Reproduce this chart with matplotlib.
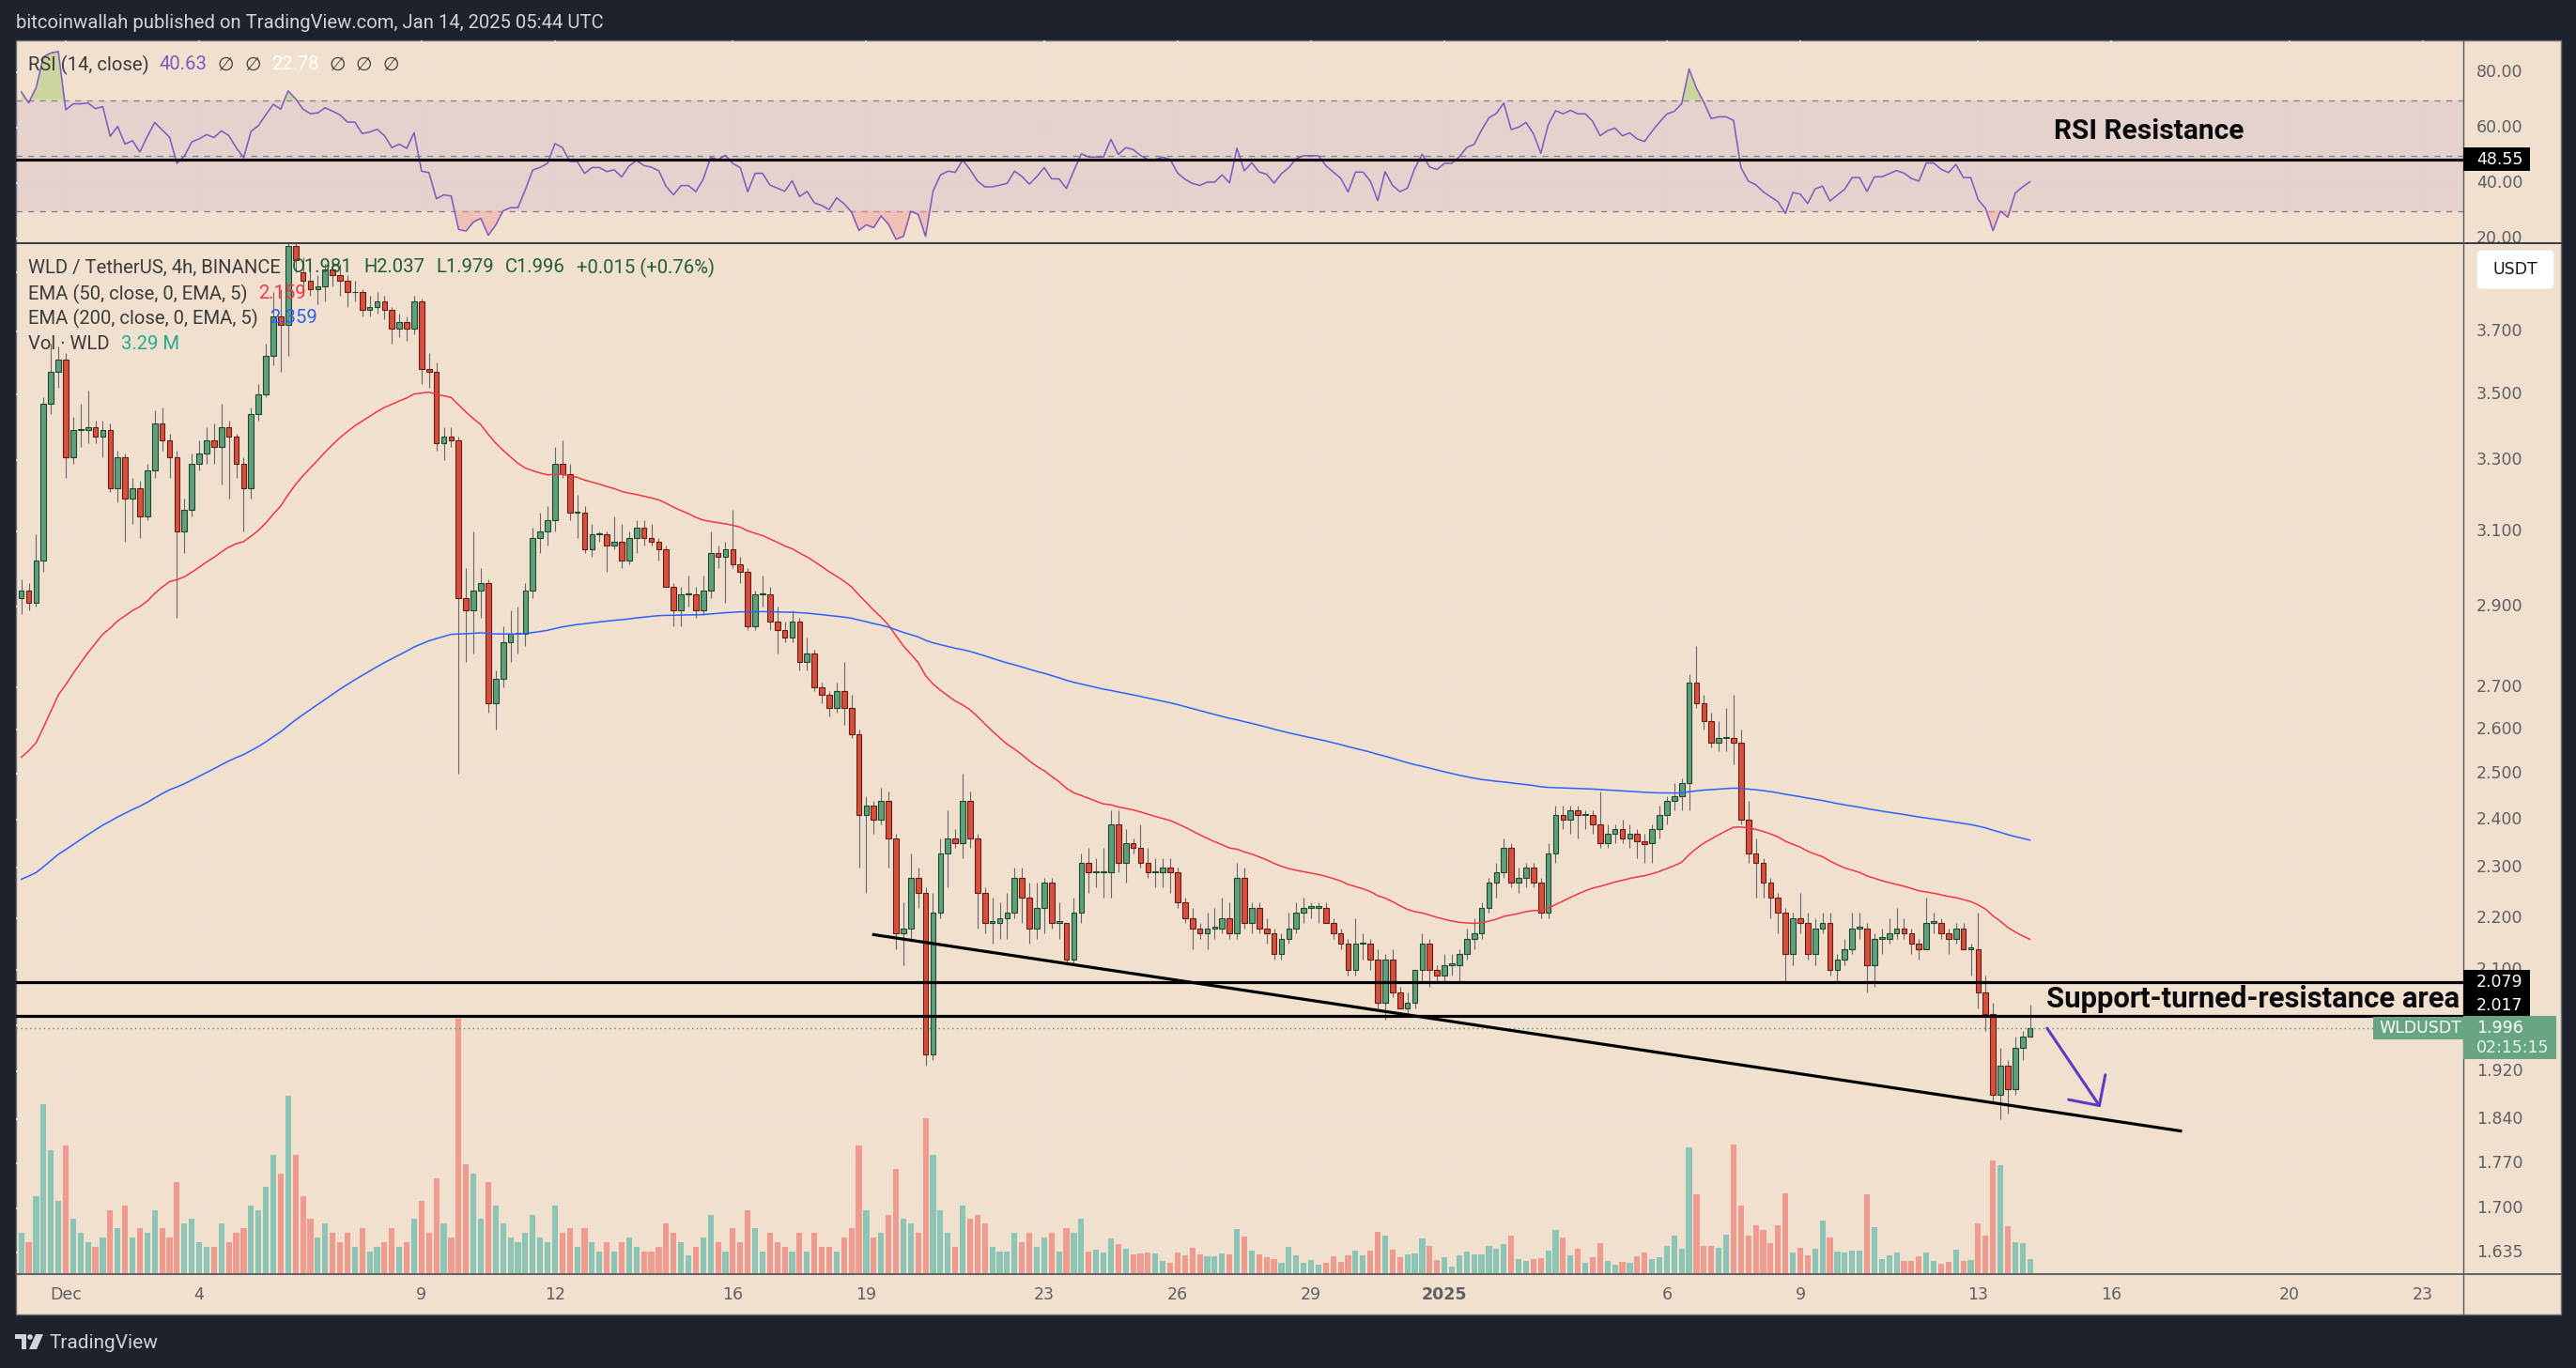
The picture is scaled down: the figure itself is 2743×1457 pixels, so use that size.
import numpy as np
import matplotlib
matplotlib.use("Agg")
import matplotlib.pyplot as plt
from matplotlib.patches import Rectangle, FancyBboxPatch, Circle, Polygon
from matplotlib.collections import PatchCollection
from matplotlib.lines import Line2D
from matplotlib.ticker import NullLocator, NullFormatter
from matplotlib.transforms import Bbox, TransformedBbox, IdentityTransform

plt.rcParams["font.family"] = ["Roboto", "DejaVu Sans"]

# WLD / USDT, 4h candles from Nov 30 2024 00:00 to Jan 14 2025 04:00 UTC (index 0 = Nov 30 00:00)
opens = [
    2.92, 2.94, 2.91, 3.02, 3.47, 3.57, 3.61, 3.31, 3.39, 3.39,
    3.40, 3.37, 3.39, 3.22, 3.31, 3.19, 3.22, 3.14, 3.27, 3.41,
    3.36, 3.31, 3.10, 3.16, 3.29, 3.32, 3.36, 3.34, 3.40, 3.37,
    3.29, 3.22, 3.44, 3.50, 3.62, 3.75, 3.72, 3.99, 3.90, 3.87,
    3.84, 3.85, 3.91, 3.89, 3.87, 3.83, 3.83, 3.77, 3.78, 3.80,
    3.77, 3.71, 3.73, 3.71, 3.80, 3.58, 3.57, 3.35, 3.37, 3.36,
    2.92, 2.89, 2.94, 2.96, 2.66, 2.72, 2.81, 2.83, 2.83, 2.94,
    3.08, 3.10, 3.13, 3.29, 3.26, 3.15, 3.15, 3.05, 3.09, 3.09,
    3.06, 3.07, 3.02, 3.08, 3.11, 3.08, 3.07, 3.05, 2.95, 2.89,
    2.93, 2.93, 2.89, 2.94, 3.04, 3.03, 3.05, 3.01, 2.99, 2.85,
    2.93, 2.93, 2.86, 2.84, 2.82, 2.86, 2.76, 2.78, 2.70, 2.68,
    2.65, 2.69, 2.65, 2.59, 2.41, 2.43, 2.40, 2.44, 2.36, 2.17,
    2.18, 2.28, 2.25, 1.95, 2.21, 2.33, 2.36, 2.35, 2.44, 2.36,
    2.25, 2.19, 2.19, 2.20, 2.21, 2.28, 2.24, 2.18, 2.22, 2.27,
    2.19, 2.19, 2.12, 2.21, 2.31, 2.29, 2.29, 2.29, 2.39, 2.31,
    2.35, 2.34, 2.31, 2.29, 2.29, 2.30, 2.29, 2.23, 2.20, 2.18,
    2.17, 2.18, 2.18, 2.20, 2.17, 2.28, 2.19, 2.22, 2.18, 2.17,
    2.13, 2.16, 2.18, 2.21, 2.22, 2.22, 2.22, 2.19, 2.17, 2.15,
    2.10, 2.15, 2.15, 2.12, 2.04, 2.12, 2.06, 2.03, 2.04, 2.10,
    2.15, 2.10, 2.09, 2.11, 2.11, 2.13, 2.16, 2.17, 2.22, 2.27,
    2.29, 2.34, 2.27, 2.28, 2.30, 2.27, 2.21, 2.33, 2.41, 2.40,
    2.42, 2.41, 2.41, 2.39, 2.35, 2.37, 2.38, 2.36, 2.37, 2.355,
    2.35, 2.38, 2.41, 2.44, 2.45, 2.48, 2.71, 2.66, 2.62, 2.57,
    2.58, 2.58, 2.57, 2.40, 2.33, 2.31, 2.27, 2.24, 2.21, 2.13,
    2.20, 2.19, 2.13, 2.18, 2.19, 2.10, 2.12, 2.14, 2.18, 2.18,
    2.11, 2.16, 2.16, 2.17, 2.18, 2.17, 2.15, 2.14, 2.19, 2.19,
    2.17, 2.16, 2.18, 2.14, 2.14, 2.06, 2.02, 1.88, 1.93, 1.89,
    1.96, 1.981,
]
highs = [
    2.97, 2.96, 3.09, 3.49, 3.66, 3.65, 3.63, 3.43, 3.47, 3.51,
    3.42, 3.42, 3.41, 3.33, 3.32, 3.25, 3.24, 3.29, 3.45, 3.46,
    3.38, 3.33, 3.19, 3.32, 3.36, 3.40, 3.41, 3.47, 3.42, 3.38,
    3.31, 3.46, 3.53, 3.66, 3.83, 3.84, 4.05, 4.02, 3.95, 3.93,
    3.89, 3.93, 3.94, 3.93, 3.89, 3.87, 3.84, 3.82, 3.83, 3.82,
    3.78, 3.76, 3.75, 3.82, 3.81, 3.63, 3.60, 3.40, 3.40, 3.37,
    3.00, 3.10, 3.00, 2.97, 2.74, 2.85, 2.89, 2.90, 2.96, 3.11,
    3.15, 3.17, 3.34, 3.36, 3.29, 3.20, 3.17, 3.12, 3.10, 3.10,
    3.14, 3.12, 3.10, 3.13, 3.13, 3.12, 3.08, 3.06, 2.96, 2.95,
    2.98, 2.95, 2.98, 3.10, 3.06, 3.07, 3.16, 3.03, 3.00, 2.94,
    2.98, 2.95, 2.90, 2.86, 2.89, 2.87, 2.82, 2.79, 2.71, 2.69,
    2.71, 2.76, 2.68, 2.60, 2.45, 2.44, 2.47, 2.46, 2.37, 2.23,
    2.33, 2.30, 2.26, 2.25, 2.36, 2.42, 2.38, 2.50, 2.46, 2.37,
    2.26, 2.24, 2.23, 2.25, 2.30, 2.30, 2.27, 2.27, 2.28, 2.28,
    2.23, 2.19, 2.24, 2.33, 2.34, 2.32, 2.34, 2.42, 2.42, 2.38,
    2.36, 2.39, 2.34, 2.32, 2.32, 2.32, 2.30, 2.24, 2.22, 2.19,
    2.21, 2.22, 2.24, 2.23, 2.31, 2.30, 2.23, 2.23, 2.20, 2.18,
    2.17, 2.21, 2.23, 2.24, 2.23, 2.23, 2.23, 2.20, 2.18, 2.16,
    2.20, 2.17, 2.16, 2.14, 2.13, 2.14, 2.07, 2.06, 2.10, 2.17,
    2.16, 2.11, 2.13, 2.13, 2.14, 2.18, 2.20, 2.23, 2.28, 2.31,
    2.36, 2.35, 2.30, 2.31, 2.31, 2.28, 2.35, 2.43, 2.43, 2.43,
    2.43, 2.42, 2.42, 2.46, 2.39, 2.39, 2.40, 2.39, 2.38, 2.37,
    2.39, 2.43, 2.45, 2.48, 2.49, 2.73, 2.80, 2.68, 2.64, 2.62,
    2.65, 2.68, 2.60, 2.44, 2.36, 2.32, 2.28, 2.25, 2.22, 2.21,
    2.25, 2.21, 2.20, 2.21, 2.21, 2.13, 2.16, 2.21, 2.21, 2.19,
    2.17, 2.18, 2.20, 2.22, 2.20, 2.18, 2.16, 2.24, 2.21, 2.20,
    2.18, 2.19, 2.19, 2.15, 2.21, 2.09, 2.04, 1.96, 1.94, 1.98,
    1.99, 2.037,
]
lows = [
    2.88, 2.89, 2.90, 2.99, 3.44, 3.52, 3.25, 3.29, 3.34, 3.35,
    3.35, 3.31, 3.21, 3.18, 3.07, 3.12, 3.08, 3.13, 3.25, 3.33,
    3.25, 2.87, 3.04, 3.14, 3.27, 3.29, 3.29, 3.23, 3.19, 3.25,
    3.10, 3.19, 3.42, 3.49, 3.59, 3.57, 3.62, 3.90, 3.82, 3.82,
    3.79, 3.80, 3.85, 3.82, 3.78, 3.80, 3.75, 3.75, 3.76, 3.74,
    3.66, 3.68, 3.67, 3.69, 3.53, 3.52, 3.33, 3.30, 3.34, 2.50,
    2.76, 2.78, 2.87, 2.64, 2.60, 2.70, 2.76, 2.78, 2.80, 2.92,
    3.04, 3.06, 3.10, 3.25, 3.13, 3.08, 3.04, 3.03, 3.07, 2.99,
    3.05, 3.00, 3.01, 3.04, 3.06, 3.06, 3.02, 2.95, 2.85, 2.85,
    2.90, 2.87, 2.88, 2.92, 3.00, 2.91, 3.00, 2.96, 2.84, 2.84,
    2.90, 2.84, 2.78, 2.81, 2.81, 2.74, 2.74, 2.69, 2.66, 2.63,
    2.64, 2.61, 2.58, 2.30, 2.25, 2.37, 2.39, 2.30, 2.14, 2.11,
    2.16, 2.22, 1.93, 1.94, 2.20, 2.26, 2.34, 2.32, 2.34, 2.18,
    2.17, 2.15, 2.16, 2.16, 2.20, 2.19, 2.15, 2.16, 2.17, 2.18,
    2.16, 2.11, 2.11, 2.19, 2.25, 2.26, 2.24, 2.24, 2.29, 2.27,
    2.33, 2.30, 2.28, 2.26, 2.26, 2.25, 2.22, 2.19, 2.14, 2.16,
    2.14, 2.16, 2.17, 2.16, 2.16, 2.18, 2.17, 2.17, 2.15, 2.12,
    2.12, 2.15, 2.17, 2.19, 2.20, 2.19, 2.19, 2.16, 2.14, 2.09,
    2.09, 2.12, 2.10, 2.03, 2.01, 2.05, 2.03, 2.02, 2.03, 2.08,
    2.07, 2.08, 2.08, 2.09, 2.08, 2.12, 2.14, 2.16, 2.21, 2.24,
    2.28, 2.26, 2.25, 2.26, 2.26, 2.20, 2.20, 2.31, 2.38, 2.37,
    2.36, 2.38, 2.37, 2.34, 2.34, 2.35, 2.35, 2.34, 2.32, 2.31,
    2.31, 2.36, 2.39, 2.42, 2.42, 2.42, 2.65, 2.60, 2.56, 2.55,
    2.55, 2.52, 2.39, 2.31, 2.24, 2.24, 2.20, 2.17, 2.08, 2.11,
    2.17, 2.12, 2.11, 2.17, 2.09, 2.08, 2.11, 2.13, 2.16, 2.06,
    2.07, 2.13, 2.15, 2.16, 2.16, 2.13, 2.12, 2.14, 2.17, 2.16,
    2.13, 2.15, 2.14, 2.09, 2.03, 1.99, 1.87, 1.84, 1.85, 1.88,
    1.94, 1.979,
]
closes = [
    2.94, 2.91, 3.02, 3.47, 3.57, 3.61, 3.31, 3.39, 3.39, 3.40,
    3.37, 3.39, 3.22, 3.31, 3.19, 3.22, 3.14, 3.27, 3.41, 3.36,
    3.31, 3.10, 3.16, 3.29, 3.32, 3.36, 3.34, 3.40, 3.37, 3.29,
    3.22, 3.44, 3.50, 3.62, 3.75, 3.72, 3.99, 3.94, 3.87, 3.84,
    3.85, 3.91, 3.89, 3.87, 3.83, 3.83, 3.77, 3.78, 3.80, 3.77,
    3.71, 3.73, 3.71, 3.80, 3.58, 3.57, 3.35, 3.37, 3.36, 2.92,
    2.89, 2.94, 2.96, 2.66, 2.72, 2.81, 2.83, 2.83, 2.94, 3.08,
    3.10, 3.13, 3.29, 3.26, 3.15, 3.15, 3.05, 3.09, 3.09, 3.06,
    3.07, 3.02, 3.08, 3.11, 3.08, 3.07, 3.05, 2.95, 2.89, 2.93,
    2.93, 2.89, 2.94, 3.04, 3.03, 3.05, 3.01, 2.99, 2.85, 2.93,
    2.93, 2.86, 2.84, 2.82, 2.86, 2.76, 2.78, 2.70, 2.68, 2.65,
    2.69, 2.65, 2.59, 2.41, 2.43, 2.40, 2.44, 2.36, 2.17, 2.18,
    2.28, 2.25, 1.95, 2.21, 2.33, 2.36, 2.35, 2.44, 2.36, 2.25,
    2.19, 2.19, 2.20, 2.21, 2.28, 2.24, 2.18, 2.22, 2.27, 2.19,
    2.19, 2.12, 2.21, 2.31, 2.29, 2.29, 2.29, 2.39, 2.31, 2.35,
    2.34, 2.31, 2.29, 2.29, 2.30, 2.29, 2.23, 2.20, 2.18, 2.17,
    2.18, 2.18, 2.20, 2.17, 2.28, 2.19, 2.22, 2.18, 2.17, 2.13,
    2.16, 2.18, 2.21, 2.22, 2.22, 2.22, 2.19, 2.17, 2.15, 2.10,
    2.15, 2.15, 2.12, 2.04, 2.12, 2.06, 2.03, 2.04, 2.10, 2.15,
    2.10, 2.09, 2.11, 2.11, 2.13, 2.16, 2.17, 2.22, 2.27, 2.29,
    2.34, 2.27, 2.28, 2.30, 2.27, 2.21, 2.33, 2.41, 2.40, 2.42,
    2.41, 2.41, 2.39, 2.35, 2.37, 2.38, 2.36, 2.37, 2.355, 2.349,
    2.38, 2.41, 2.44, 2.45, 2.48, 2.71, 2.66, 2.62, 2.57, 2.58,
    2.58, 2.57, 2.40, 2.33, 2.31, 2.27, 2.24, 2.21, 2.13, 2.20,
    2.19, 2.13, 2.18, 2.19, 2.10, 2.12, 2.14, 2.18, 2.18, 2.11,
    2.16, 2.16, 2.17, 2.18, 2.17, 2.15, 2.14, 2.19, 2.19, 2.17,
    2.16, 2.18, 2.14, 2.14, 2.06, 2.02, 1.88, 1.93, 1.89, 1.96,
    1.98, 1.996,
]
# volume in millions of WLD
volumes = [
    9, 7, 17, 37, 27, 16, 28, 12, 9, 7,
    6, 8, 14, 10, 15, 8, 10, 9, 14, 10,
    8, 20, 11, 12, 7, 6, 6, 11, 7, 9,
    10, 15, 14, 19, 26, 22, 39, 26, 17, 12,
    8, 11, 9, 7, 9, 6, 10, 5, 6, 7,
    10, 6, 7, 12, 16, 9, 21, 11, 8, 55.7,
    24, 22, 12, 20, 15, 11, 8, 7, 9, 13,
    8, 7, 15, 9, 10, 6, 10, 7, 5, 7,
    5, 7, 8, 6, 5, 5, 6, 11, 9, 7,
    4, 6, 8, 13, 7, 5, 10, 7, 14, 10,
    5, 9, 7, 6, 5, 9, 5, 9, 6, 6,
    5, 8, 10, 28, 14, 8, 9, 13, 23, 12,
    11, 9, 34, 26, 14, 9, 6, 15, 12, 13,
    11, 6, 5, 5, 9, 7, 9, 6, 8, 9,
    5, 10, 9, 12, 5.0, 5.4, 4.8, 7.8, 6.5, 5.5,
    4.4, 4.6, 4.8, 4.6, 2.9, 2.5, 4.8, 4.2, 5.8, 4.4,
    3.9, 3.8, 4.6, 4.4, 9.9, 8.1, 5.2, 4.4, 3.6, 3.3,
    2.4, 5.9, 4.0, 2.5, 3.0, 2.1, 2.4, 3.9, 2.7, 4.0,
    5.2, 4.2, 5.2, 9.2, 8.5, 5.4, 3.6, 4.4, 4.6, 7.8,
    6.2, 3.1, 3.6, 1.6, 4.2, 4.9, 4.4, 4.3, 6.2, 5.5,
    6.5, 8.4, 3.3, 2.9, 3.3, 3.5, 5.2, 9.7, 8.0, 4.0,
    5.5, 2.5, 3.6, 6.8, 2.9, 2.1, 2.7, 2.5, 3.8, 4.7,
    3.3, 3.6, 6.1, 8.5, 5.5, 27.6, 17.5, 6.2, 6.2, 5.8,
    8.7, 28.3, 14.9, 8.5, 10.6, 9.7, 6.7, 10.6, 17.7, 4.7,
    5.8, 4.2, 5.5, 11.6, 8.0, 5.0, 4.8, 5.2, 5.2, 17.4,
    10.2, 3.3, 4.0, 4.7, 2.9, 2.9, 3.8, 4.8, 2.9, 2.2,
    2.6, 5.3, 2.9, 3.0, 11.1, 8.3, 24.7, 23.8, 10.5, 6.9,
    6.7, 3.29,
]

# indicator state just before the first visible candle
ema50_seed = 2.52
ema200_seed = 2.27
rsi_seed_gain = 0.030
rsi_seed_loss = 0.0117

# time axis: candle index of each labelled day
tick_pos = [6, 24, 54, 72, 96, 114, 138, 156, 174, 192, 222, 240, 264, 282, 306, 324]
tick_labels = ["Dec", "4", "9", "12", "16", "19", "23", "26", "29", "2025",
               "6", "9", "13", "16", "20", "23"]
price_ticks = [3.9, 3.7, 3.5, 3.3, 3.1, 2.9, 2.7, 2.6, 2.5, 2.4, 2.3, 2.2,
               2.1, 2.0, 1.92, 1.84, 1.77, 1.70, 1.635]
# 3.900 and 2.000 sit under the USDT / last-price tags, so only these are written
price_labels = [3.7, 3.5, 3.3, 3.1, 2.9, 2.7, 2.6, 2.5, 2.4, 2.3, 2.2,
                2.1, 1.92, 1.84, 1.77, 1.70, 1.635]
rsi_ticks = [80, 60, 40, 20]

# drawings on the chart
support_levels = [2.079, 2.017]
rsi_resistance = 48.55
trend_x = [114.8, 291.5]
trend_y = [2.168, 1.821]
arrow_from = (273.3, 1.995)
arrow_to = (280.5, 1.860)
last_price = 1.996

# ---------------------------------------------------------------------------
W, H = 2743, 1457
DARK = "#1e222d"
PANE = "#f2e0ce"
GRID = "#ebe2da"
AXTXT = "#5d5f66"
UP, DN = "#5f9f7b", "#d6503f"
UP_EDGE, DN_EDGE = "#1d4a2e", "#6a1b14"
VOL_UP, VOL_DN = "#8cc4b5", "#f09b90"
WICK = "#66676d"

L, R = 17, 2623          # plot area, pixels
TOP, RSI_B, PRICE_B, BOT, RIGHT = 43, 259, 1357, 1400, 2727
XLIM = (-0.715, 329.45)
VMAX = 225.0

fig = plt.figure(figsize=(W / 100, H / 100), dpi=100, facecolor=DARK)
ident = IdentityTransform()


def fx(x):
    return x / W


def fy(y):
    return 1 - y / H


fig.add_artist(Rectangle((fx(L), fy(BOT)), fx(RIGHT) - fx(L), fy(TOP) - fy(BOT),
                         transform=fig.transFigure, fc=PANE, ec="#6b6e78", lw=1, zorder=-1))

o = np.array(opens)
h = np.array(highs)
lo = np.array(lows)
c = np.array(closes)
v = np.array(volumes)
x = np.arange(len(c))
up = c >= o


def ema(vals, n, seed):
    a = 2 / (n + 1)
    out, cur = [], seed
    for val in vals:
        cur = a * val + (1 - a) * cur
        out.append(cur)
    return np.array(out)


def wilder_rsi(vals, prev, g, l, n=14):
    out = []
    for val in vals:
        d = val - prev
        g = (g * (n - 1) + max(d, 0)) / n
        l = (l * (n - 1) + max(-d, 0)) / n
        out.append(100 - 100 / (1 + g / l))
        prev = val
    return np.array(out)


ema50 = ema(c, 50, ema50_seed)
ema200 = ema(c, 200, ema200_seed)
rsi = wilder_rsi(c, o[0], rsi_seed_gain, rsi_seed_loss)

ax_rsi = fig.add_axes([fx(L), fy(RSI_B), (R - L) / W, (RSI_B - TOP) / H])
ax = fig.add_axes([fx(L), fy(PRICE_B), (R - L) / W, (PRICE_B - RSI_B) / H])
for a in (ax_rsi, ax):
    a.set_facecolor("none")
    for s in a.spines.values():
        s.set_visible(False)
    a.set_xlim(*XLIM)
    a.set_xticks(tick_pos)
    a.tick_params(length=0, labelbottom=False, labelleft=False)
    a.grid(True, color=GRID, lw=1.2)
    a.set_axisbelow(True)

# ---- price pane ----
ax.set_yscale("log")
ax.set_ylim(1.6043, 4.001)
ax.set_yticks(price_ticks)
ax.yaxis.set_minor_locator(NullLocator())
ax.yaxis.set_major_formatter(NullFormatter())
ax.yaxis.set_minor_formatter(NullFormatter())

vol_rects = [Rectangle((i - 0.39, 0), 0.78, vi / VMAX) for i, vi in zip(x, v)]
ax.add_collection(PatchCollection(vol_rects, facecolors=[VOL_UP if u else VOL_DN for u in up],
                                  edgecolors="none", transform=ax.get_xaxis_transform(),
                                  zorder=1), autolim=False)

ax.vlines(x, lo, h, color=WICK, lw=0.8, zorder=2)
ax.bar(x, np.maximum(np.abs(c - o), 0.003), bottom=np.minimum(o, c), width=0.72,
       color=[UP if u else DN for u in up], edgecolor=[UP_EDGE if u else DN_EDGE for u in up],
       linewidth=0.8, zorder=3)

ax.plot(x, ema50, color="#f23645", lw=1.1, zorder=4)
ax.plot(x, ema200, color="#2962ff", lw=1.1, zorder=4)

for lvl in support_levels:
    ax.axhline(lvl, color="black", lw=2.3, zorder=5)
ax.plot(trend_x, trend_y, color="black", lw=2.3, zorder=5, solid_capstyle="butt")
ax.axhline(last_price, color="#3f9e6d", lw=1, ls=(0, (1, 2.5)), zorder=4)
ax.annotate("", xy=arrow_to, xytext=arrow_from,
            arrowprops=dict(arrowstyle="->,head_length=0.5,head_width=0.5", color="#5b3cc4",
                            lw=2.2, mutation_scale=34, shrinkA=0, shrinkB=0), zorder=6)
ax.text(1 - 4 / (R - L), np.sqrt(support_levels[0] * support_levels[1]),
        "Support-turned-resistance area", transform=ax.get_yaxis_transform(),
        ha="right", va="center", fontsize=22.4, fontweight="bold", color="#0b0b0f", zorder=7)

# ---- RSI pane ----
ax_rsi.set_ylim(18.31, 91.53)
ax_rsi.set_yticks(rsi_ticks)
ax_rsi.axhspan(30, 70, color="#7e57c2", alpha=0.1, lw=0, zorder=0.6)
for lvl in (70, 50, 30):
    ax_rsi.axhline(lvl, color="#7b7d88", lw=0.9, ls=(0, (5, 5)), zorder=1)
ax_rsi.fill_between(x, 70, rsi, where=rsi > 70, interpolate=True, color="#9ccc65",
                    alpha=0.45, lw=0, zorder=1.5)
ax_rsi.fill_between(x, 30, rsi, where=rsi < 30, interpolate=True, color="#ef9a9a",
                    alpha=0.45, lw=0, zorder=1.5)
ax_rsi.plot(x, rsi, color="#7e57c2", lw=1.1, zorder=3)
ax_rsi.axhline(rsi_resistance, color="#0d0a14", lw=2.3, zorder=4)
ax_rsi.text(287, 58.6, "RSI Resistance", ha="center", va="center", fontsize=21.5,
            fontweight="bold", color="#0b0b0f", zorder=6)

# frame lines
for (x0, y0, x1, y1, col, lw) in [
    (L, RSI_B, RIGHT, RSI_B, "#2a2e39", 1.3),
    (L, PRICE_B, RIGHT, PRICE_B, "#55575f", 1.3),
    (R, TOP, R, BOT, "#55575f", 1.0),
]:
    fig.add_artist(Line2D([fx(x0), fx(x1)], [fy(y0), fy(y1)], color=col, lw=lw,
                          transform=fig.transFigure, zorder=4))


# ---- price tags on the axes ----
def tag(axis, value, lines, fc, colors, shift=0, x0=R, width=71, line_h=21):
    yd = axis.get_yaxis_transform().transform((1, value))[1] + shift
    bh = 4 + line_h * len(lines)
    top = yd + line_h / 2 + 2
    fig.add_artist(Rectangle((x0, top - bh), width, bh, transform=ident, fc=fc, ec="none",
                             zorder=5))
    for k, (s, col) in enumerate(zip(lines, colors)):
        fig.text(x0 + 14, top - 2 - line_h * (k + 0.5), s, transform=ident, color=col,
                 fontsize=AXFS, family="DejaVu Sans", ha="left", va="center", zorder=6)
    return top


AXFS = 12.5
tag(ax_rsi, rsi_resistance, ["48.55"], "black", ["white"])
tag_top = tag(ax, support_levels[0], ["2.079"], "black", ["white"])
tag(ax, support_levels[1], ["2.017"], "black", ["white"], shift=11)
tag(ax, last_price, ["1.996", "02:15:15"], "#68a683", ["white", "#e8f3ec"], width=99)

yd = ax.get_yaxis_transform().transform((1, last_price))[1]
fig.add_artist(Rectangle((2527, yd - 12), 101, 24, transform=ident, fc="#68a683", ec="none",
                         zorder=5))
fig.text(2577, yd, "WLDUSDT", transform=ident, color="white", fontsize=AXFS,
         family="DejaVu Sans", ha="center", va="center", zorder=6)

fig.add_artist(FancyBboxPatch((2637, H - 308), 83, 42, boxstyle="round,pad=0,rounding_size=6",
                              transform=ident, fc="white", ec="#e4e4e4", lw=0.8, zorder=5))
fig.text(2678, H - 287, "USDT", transform=ident, color="#131722", fontsize=AXFS,
         family="DejaVu Sans", ha="center", va="center", zorder=6)

# ---- axis labels ----
upper_clip = TransformedBbox(Bbox([[R, tag_top], [W, H - RSI_B]]), ident)
for p in price_labels:
    t = ax.text(1 + 14 / (R - L), p, f"{p:.3f}", transform=ax.get_yaxis_transform(),
                ha="left", va="center", fontsize=AXFS, color=AXTXT, family="DejaVu Sans",
                clip_on=False)
    if p == 2.1:
        # only the top of this label shows above the 2.079 tag
        t.set_clip_box(upper_clip)
        t.set_clip_on(True)
rsi_clip = TransformedBbox(Bbox([[fx(L), fy(RSI_B)], [fx(RIGHT), fy(TOP)]]), fig.transFigure)
for r in rsi_ticks:
    t = ax_rsi.text(1 + 14 / (R - L), r, f"{r:.2f}", transform=ax_rsi.get_yaxis_transform(),
                    ha="left", va="center", fontsize=AXFS, color=AXTXT, family="DejaVu Sans")
    t.set_clip_box(rsi_clip)
    t.set_clip_on(True)
for pos, lab in zip(tick_pos, tick_labels):
    ax.text(pos, -22 / (PRICE_B - RSI_B), lab, transform=ax.get_xaxis_transform(),
            ha="center", va="center", fontsize=AXFS, color=AXTXT, family="DejaVu Sans",
            fontweight="bold" if lab == "2025" else "normal", clip_on=False)

# ---- legends ----
renderer = fig.canvas.get_renderer()


def text_row(x0, y0, pieces, size=14.6, gap=9):
    for s, col in pieces:
        t = fig.text(fx(x0), fy(y0), s, color=col, fontsize=size, ha="left", va="center",
                     zorder=8)
        x0 += t.get_window_extent(renderer).width + gap


GREEN_TXT = "#1f5e36"
text_row(30, 69, [("RSI (14, close)", "#3b3b3b"), ("40.63", "#7e57c2"), ("\u2205", "#3b3b3b"),
                  ("\u2205", "#3b3b3b"), ("22.78", "white"), ("\u2205", "#3b3b3b"),
                  ("\u2205", "#3b3b3b"), ("\u2205", "#3b3b3b")], gap=11)
text_row(30, 285, [("WLD / TetherUS, 4h, BINANCE", "#3b3b3b"), ("O1.981", GREEN_TXT),
                   ("H2.037", GREEN_TXT), ("L1.979", GREEN_TXT), ("C1.996", GREEN_TXT),
                   ("+0.015 (+0.76%)", GREEN_TXT)], gap=12)
text_row(30, 313, [("EMA (50, close, 0, EMA, 5)", "#3b3b3b"), ("2.159", "#f23645")], gap=12)
text_row(30, 339, [("EMA (200, close, 0, EMA, 5)", "#3b3b3b"), ("2.359", "#2962ff")], gap=12)
text_row(30, 366, [("Vol \u00b7 WLD", "#3b3b3b"), ("3.29 M", "#22ab94")], gap=12)

# ---- header / footer ----
fig.text(fx(17), fy(25), "bitcoinwallah published on TradingView.com, Jan 14, 2025 05:44 UTC",
         color="#d1d4dc", fontsize=14.6, ha="left", va="center")
LOGO = "#d1d4dc"
fig.add_artist(Polygon([(16, H - 1421), (28, H - 1421), (28, H - 1437), (23, H - 1437),
                        (23, H - 1426), (16, H - 1426)], closed=True, transform=ident,
                       fc=LOGO, ec="none"))
fig.add_artist(Circle((32, H - 1424), 2.8, transform=ident, fc=LOGO, ec="none"))
fig.add_artist(Polygon([(38, H - 1421), (46, H - 1421), (39, H - 1437), (31, H - 1437)],
                       closed=True, transform=ident, fc=LOGO, ec="none"))
fig.text(fx(52), fy(1430), "TradingView", color=LOGO, fontsize=15, ha="left", va="center")

fig.savefig("out.png", dpi=100, facecolor=DARK)
